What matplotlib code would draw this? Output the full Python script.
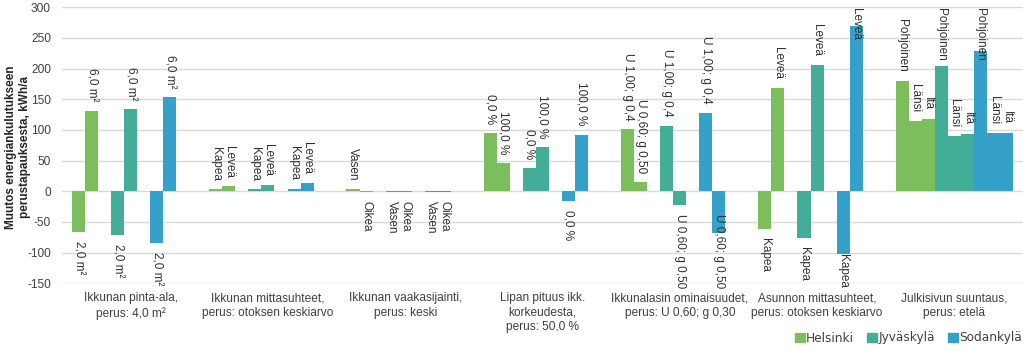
import matplotlib
matplotlib.use('Agg')
import matplotlib.pyplot as plt
from matplotlib.patches import Patch
import numpy as np

plt.rcParams['font.family'] = ['Liberation Sans', 'DejaVu Sans']
plt.rcParams['axes.unicode_minus'] = False

cities = ['Helsinki', 'Jyväskylä', 'Sodankylä']
colors = ['#7bbe5b', '#43ad97', '#36a1c8']

groups = ['Ikkunan pinta-ala,\nperus: 4,0 m²',
          'Ikkunan mittasuhteet,\nperus: otoksen keskiarvo',
          'Ikkunan vaakasijainti,\nperus: keski',
          'Lipan pituus ikk.\nkorkeudesta,\nperus: 50,0 %',
          'Ikkunalasin ominaisuudet,\nperus: U 0,60; g 0,30',
          'Asunnon mittasuhteet,\nperus: otoksen keskiarvo',
          'Julkisivun suuntaus,\nperus: etelä']

# variant names (bar labels) for each group
variants = [['2,0 m²', '6,0 m²'],
            ['Kapea', 'Leveä'],
            ['Vasen', 'Oikea'],
            ['0,0 %', '100,0 %'],
            ['U 1,00; g 0,4', 'U 0,60; g 0,50'],
            ['Kapea', 'Leveä'],
            ['Pohjoinen', 'Länsi', 'Itä']]

# change in energy use, kWh/a
helsinki = [[-67, 131], [3, 8], [3, -1], [95, 46], [101, 15], [-61, 169], [180, 114, 118]]
jyvaskyla = [[-71, 134], [3, 10], [-1, -1], [38, 72], [107, -23], [-76, 206], [205, 90, 94]]
sodankyla = [[-84, 153], [4, 14], [-1, -1], [-15, 92], [128, -68], [-102, 269], [229, 95, 95]]
values = [helsinki, jyvaskyla, sodankyla]

yticks = [-150, -100, -50, 0, 50, 100, 150, 200, 250, 300]

W, H = 1023, 359
fig = plt.figure(figsize=(W / 100, H / 100), dpi=100)
ax = fig.add_axes([62 / W, 1 - 283.3 / H, (W - 62) / W, 276 / H])

span = 0.856
w = span / 9
labels = []
for g in range(len(groups)):
    for c in range(3):
        for j, v in enumerate(values[c][g]):
            k = 3 * c + j
            x = g - span / 2 + (k + 0.5) * w
            ax.bar(x, v, width=w, color=colors[c], linewidth=0, zorder=2)
            off = 9 if v >= 0 else -9
            a = ax.annotate(variants[g][j], (x, v), xytext=(0, off), textcoords='offset pixels',
                            rotation=270, ha='center', va='bottom' if v >= 0 else 'top',
                            fontsize=8.5, color='#303030', zorder=3)
            labels.append(a)

ax.set_xlim(-0.5, 6.5)
ax.set_ylim(-150, 300)
ax.set_yticks(yticks)
ax.set_yticklabels([str(t) for t in yticks])
ax.set_xticks(range(len(groups)))
ax.set_xticklabels(groups, linespacing=1.25)
ax.tick_params(axis='both', length=0, labelsize=8.6, labelcolor='#404040')
ax.tick_params(axis='y', pad=8)
ax.tick_params(axis='x', pad=6.5)
ax.grid(axis='y', color='#d9d9d9', linewidth=1, zorder=0)
ax.set_axisbelow(True)
for s in ax.spines.values():
    s.set_visible(False)

fig.text(18 / W, 1 - 147 / H, 'Muutos energiankulutukseen\nperustapauksesta, kWh/a',
         rotation=90, ha='center', va='center', fontsize=8.5, fontweight='bold',
         color='#262626', multialignment='center', linespacing=1.3)

# keep labels inside the plot area like the original does
fig.canvas.draw()
r = fig.canvas.get_renderer()
abox = ax.get_window_extent(r)
for a in labels:
    bb = a.get_window_extent(r)
    dx, dy = a.xyann
    if bb.y0 < abox.y0 - 5:
        a.xyann = (dx, dy + (abox.y0 - 5 - bb.y0))
    elif bb.y1 > abox.y1 - 1:
        a.xyann = (dx, dy - (bb.y1 - abox.y1 + 1))

handles = [Patch(color=col) for col in colors]
fig.legend(handles, cities, loc='center right', bbox_to_anchor=(1.0, 1 - 338 / H), ncol=3,
           frameon=False, handlelength=0.8, handleheight=0.8, handletextpad=0.1,
           columnspacing=1.1, borderaxespad=0, borderpad=0.1,
           prop={'family': 'DejaVu Sans', 'size': 8.7}, labelcolor='#404040')

fig.savefig('out.png', dpi=100)
